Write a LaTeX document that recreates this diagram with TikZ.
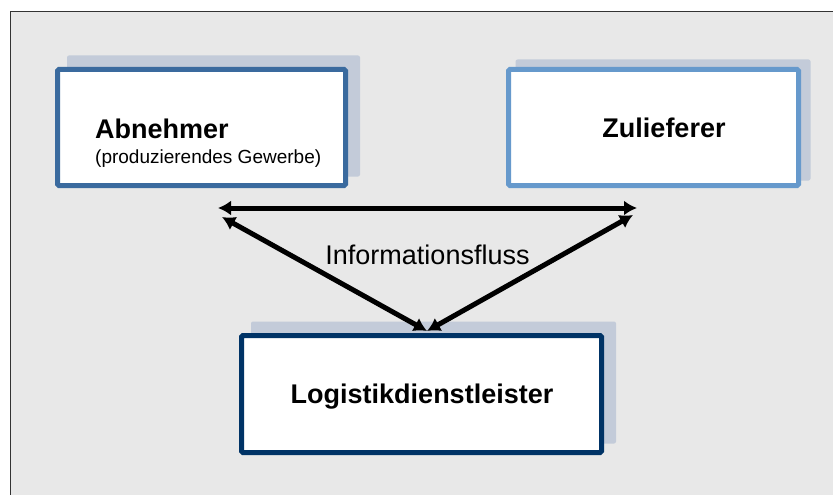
\documentclass[tikz,border=0pt]{standalone}
\usepackage{fontspec}
\setmainfont{Liberation Sans}
\usetikzlibrary{arrows.meta}

\definecolor{bggray}{HTML}{E8E8E8}
\definecolor{shadowblue}{HTML}{C3CBD9}
\definecolor{midblue}{HTML}{3A6A9E}
\definecolor{lightblue}{HTML}{6699CC}
\definecolor{navyblue}{HTML}{003366}

\tikzset{
	box/.style={draw, fill=white, line width=5pt, rounded corners=1.5pt, inner sep=0pt},
	shadowbox/.style={fill=shadowblue, rounded corners=2pt, inner sep=0pt},
	flow/.style={line width=5pt, {Latex[length=13pt,width=15pt]}-{Latex[length=13pt,width=15pt]}},
	bigtext/.style={inner sep=0pt, font=\fontsize{27}{32}\selectfont},
}

\begin{document}
\begin{tikzpicture}[x=1pt, y=-1pt]
				\useasboundingbox (0, 0) rectangle (833, 495);
				% Background
				\fill[bggray] (10.5, 11.5) rectangle (833, 495);
				\draw[line width=1.4pt, black!80] (10.5, 495)--(10.5, 11.5)--(833, 11.5);
				
				% Shadows
				\node[shadowbox, minimum width=293pt, minimum height=121pt] (abnshadow) at (213.5, 116) {};
				\node[shadowbox, minimum width=295pt, minimum height=121pt] (zulshadow) at (663, 120) {};
				\node[shadowbox, minimum width=365pt, minimum height=122pt] (logshadow) at (433.5, 382.5) {};
				
				% Boxes
				\node[box, draw=midblue, minimum width=288pt, minimum height=116pt] (abnehmer) at (201.5, 127.5) {};
				\node[box, draw=lightblue, minimum width=290pt, minimum height=116pt] (zulieferer) at (653.5, 127.5) {};
				\node[box, draw=navyblue, minimum width=360pt, minimum height=117pt] (logistik) at (421.5, 394) {};
				
				% Texts
				\node[bigtext, anchor=base west, font=\fontsize{27}{32}\selectfont\bfseries] (abntext) at (95, 138) {Abnehmer};
				\node[inner sep=0pt, anchor=base west, font=\fontsize{19}{23}\selectfont] (abnsub) at (95, 163) {(produzierendes Gewerbe)};
				\node[bigtext, anchor=base, font=\fontsize{27}{32}\selectfont\bfseries] (zultext) at (664, 137) {Zulieferer};
				\node[bigtext, anchor=base, font=\fontsize{27}{32}\selectfont\bfseries] (logtext) at (422, 403) {Logistikdienstleister};
				
				% Arrow ends
				\coordinate (abnleft) at (218, 208);
				\coordinate (zulright) at (637, 208);
				\coordinate (abndiag) at (222, 217);
				\coordinate (zuldiag) at (633, 215);
				\coordinate (logtop) at (427, 331);
				
				% Arrows
				\draw[flow] (abnleft)--(zulright);
				\draw[flow] (abndiag)--(logtop);
				\draw[flow] (logtop)--(zuldiag);
				\node[bigtext, anchor=base] (info) at (427.5, 264) {Informationsfluss};
\end{tikzpicture}
\end{document}
